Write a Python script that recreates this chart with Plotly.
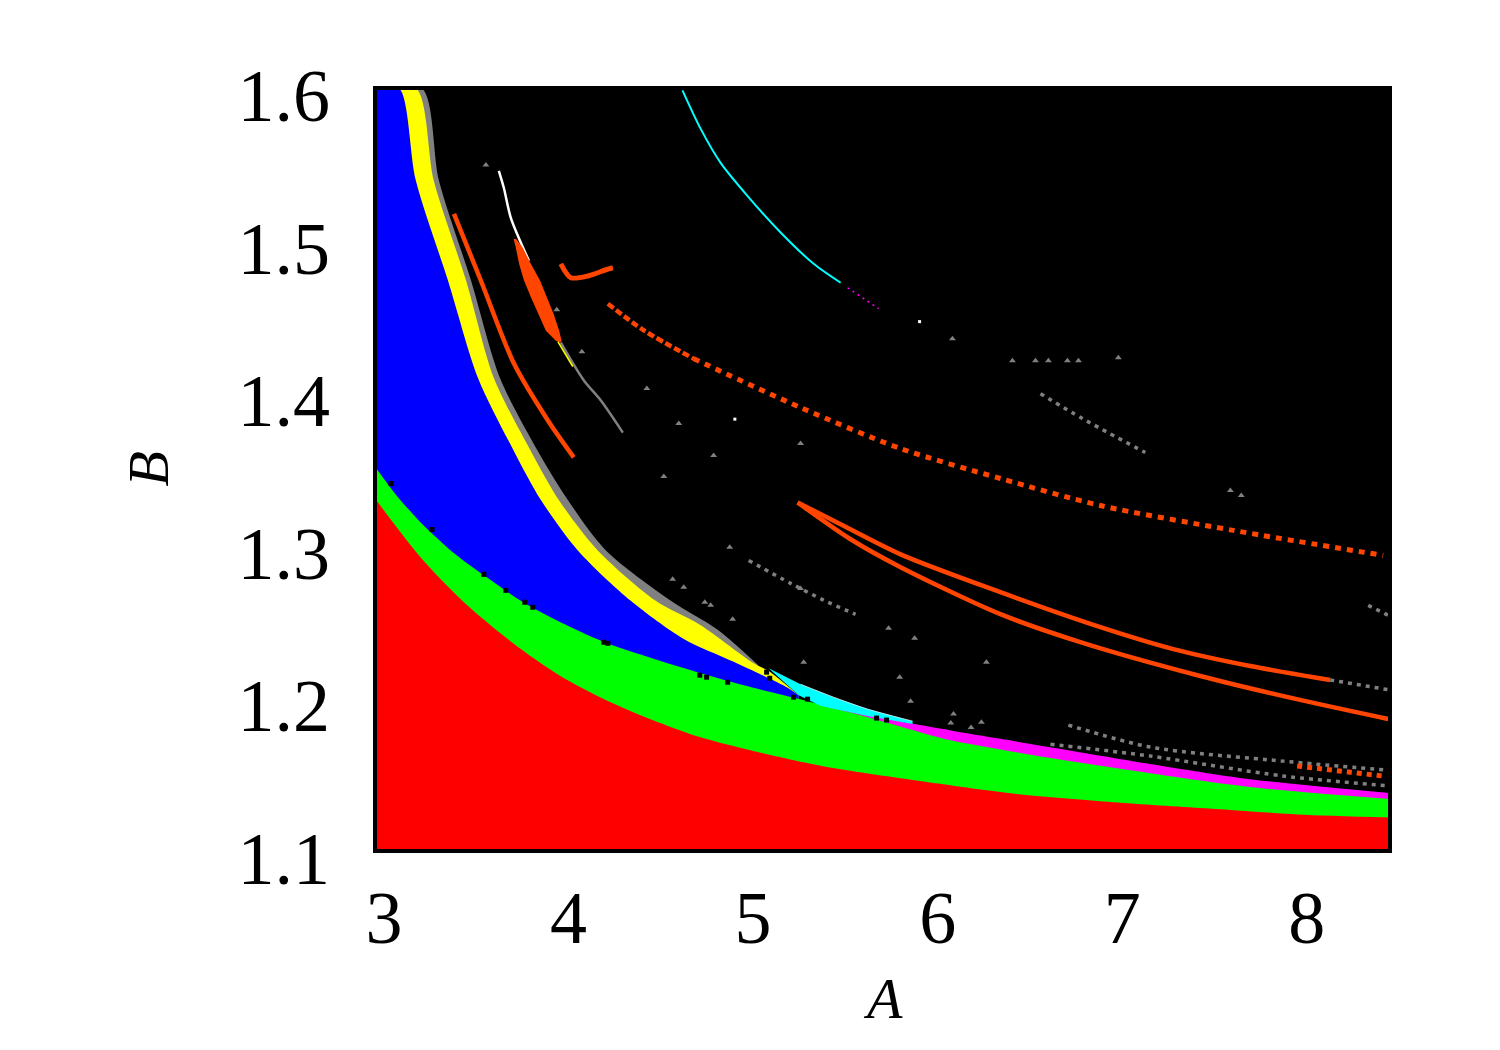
import plotly.graph_objects as go

# region boundaries (A on x, B on y)
RED_X = [3.0, 3.25, 3.5, 3.75, 4.0, 4.25, 4.5, 4.75, 5.0, 5.25, 5.5, 6.0, 6.5, 7.0, 7.5, 8.0, 8.5]
RED_Y = [1.331, 1.292, 1.261, 1.236, 1.215, 1.199, 1.186, 1.175, 1.167, 1.160, 1.154, 1.145, 1.137, 1.132, 1.128, 1.124, 1.122]

GREEN_X = [3.0, 3.11, 3.25, 3.43, 3.61, 3.79, 3.97, 4.24, 4.51, 4.78, 5.05, 5.32, 5.50, 5.69, 5.85,
           6.12, 6.39, 6.66, 7.20, 7.74, 8.5]
GREEN_Y = [1.352, 1.334, 1.315, 1.295, 1.279, 1.264, 1.252, 1.237, 1.226, 1.216, 1.207, 1.199, 1.193,
           1.187, 1.1815, 1.1725, 1.1665, 1.161, 1.151, 1.142, 1.134]

MAG_X = [5.40, 5.67, 5.91, 6.12, 6.39, 6.66, 7.20, 7.74, 8.5]
MAG_Y = [1.1965, 1.1895, 1.1835, 1.1790, 1.1735, 1.168, 1.157, 1.147, 1.138]

YEL_L_X = [3.0, 3.130, 3.222, 3.395, 3.558, 3.753, 3.899, 4.099, 4.386, 4.673, 4.944, 5.236, 5.296]
YEL_L_Y = [1.600, 1.600, 1.539, 1.474, 1.410, 1.362, 1.330, 1.297, 1.264, 1.239, 1.224, 1.207, 1.202]

YEL_R_X = [3.0, 3.222, 3.319, 3.493, 3.644, 3.845, 3.996, 4.207, 4.521, 4.765, 5.052, 5.133, 5.296]
YEL_R_Y = [1.600, 1.600, 1.539, 1.474, 1.410, 1.362, 1.330, 1.297, 1.264, 1.248, 1.223, 1.218, 1.202]

GRAY_R_X = [3.0, 3.254, 3.347, 3.520, 3.677, 3.883, 4.045, 4.251, 4.603, 4.857, 5.074]
GRAY_R_Y = [1.600, 1.600, 1.539, 1.474, 1.410, 1.362, 1.330, 1.297, 1.264, 1.245, 1.222]

CYAN_X = [5.133, 5.306, 5.485, 5.669, 5.913, 5.913, 5.669, 5.415, 5.296, 5.133]
CYAN_Y = [1.2198, 1.2093, 1.2008, 1.1930, 1.1851, 1.1832, 1.1884, 1.1950, 1.2020, 1.2198]

# thin curves
CYAN_ARC_X = [4.666, 4.765, 4.873, 5.018, 5.198, 5.377, 5.523]
CYAN_ARC_Y = [1.5985, 1.5732, 1.5509, 1.5293, 1.5053, 1.4848, 1.4724]
MAG_ARC_X = [5.561, 5.729]
MAG_ARC_Y = [1.4691, 1.4554]

WHITE_X = [3.671, 3.698, 3.736, 3.834]
WHITE_Y = [1.5457, 1.5346, 1.5149, 1.4868]

OR1_X = [3.428, 3.574, 3.753, 3.937, 4.077]
OR1_Y = [1.5175, 1.4737, 1.4194, 1.3821, 1.3579]

LENS_X = [3.751, 3.763, 3.781, 3.808, 3.845, 3.884, 3.926, 3.980, 4.007, 4.011, 3.998, 3.968, 3.931,
          3.895, 3.845, 3.800, 3.765]
LENS_Y = [1.5010, 1.4955, 1.4846, 1.4737, 1.4628, 1.4519, 1.4410, 1.4344, 1.4333, 1.4344, 1.4410,
          1.4519, 1.4628, 1.4737, 1.4846, 1.4955, 1.5010]

HOOK_X = [4.007, 4.061, 4.159, 4.251, 4.289]
HOOK_Y = [1.4848, 1.4757, 1.4770, 1.4809, 1.4822]

GRAY_TAIL_X = [4.007, 4.132, 4.224, 4.343]
GRAY_TAIL_Y = [1.4331, 1.4083, 1.3952, 1.3742]
YEL_TAIL_X = [3.991, 4.072]
YEL_TAIL_Y = [1.4338, 1.4175]

UPPER_OR_X = [4.262, 4.456, 4.727, 5.306, 5.848, 6.389, 6.931, 7.651, 8.463]
UPPER_OR_Y = [1.4586, 1.4412, 1.4226, 1.3906, 1.3637, 1.3441, 1.3264, 1.3101, 1.2937]

DOUBLE_U_X = [5.290, 5.523, 5.848, 6.389, 6.931, 7.326, 7.743, 8.176]
DOUBLE_U_Y = [1.3284, 1.3141, 1.2944, 1.2696, 1.2467, 1.2323, 1.2212, 1.2121]
DOUBLE_L_X = [5.290, 5.577, 5.848, 6.389, 6.822, 7.472, 8.013, 8.490]
DOUBLE_L_Y = [1.3284, 1.3043, 1.2860, 1.2552, 1.2369, 1.2147, 1.1990, 1.1865]

GRAY_LINES = [
    ([8.176, 8.5], [1.2121, 1.2055]),
    ([8.382, 8.49], [1.261, 1.2545]),
    ([6.757, 7.201, 7.92, 8.485], [1.1825, 1.1681, 1.1589, 1.1530]),
    ([6.660, 7.201, 7.922, 8.485], [1.1700, 1.1622, 1.1491, 1.1428]),
    ([5.025, 5.252, 5.431, 5.604], [1.2904, 1.2754, 1.2644, 1.2551]),
    ([6.606, 6.833, 7.174], [1.3997, 1.3834, 1.3611]),
]
OR_BOTTOM_X = [7.997, 8.463]
OR_BOTTOM_Y = [1.1557, 1.1491]

GRAY_DOTS_X = [3.601, 3.985, 4.121, 4.473, 4.646, 4.835, 4.565, 4.922, 4.613, 4.673, 4.787, 4.819, 4.938,
               5.323, 5.306, 5.843, 5.902, 5.783, 5.924, 6.135, 6.286, 6.313, 6.129, 6.454, 6.579, 6.649,
               6.752, 6.812, 7.028, 7.635, 7.694, 6.12, 6.23, 5.306]
GRAY_DOTS_Y = [1.5496, 1.4547, 1.4272, 1.4030, 1.3801, 1.3592, 1.3454, 1.2990, 1.2780, 1.2728, 1.2630,
               1.2610, 1.2518, 1.2237, 1.2721, 1.2139, 1.1982, 1.2460, 1.2394, 1.1897, 1.1844, 1.2237,
               1.4357, 1.4213, 1.4213, 1.4213, 1.4213, 1.4213, 1.4233, 1.3363, 1.3330, 1.1838, 1.1810,
               1.3670]
WHITE_DOTS_X = [5.951, 4.95]
WHITE_DOTS_Y = [1.4469, 1.383]
BLACK_DOTS_X = [3.087, 3.309, 3.590, 3.709, 3.812, 3.855, 4.240, 4.262, 4.760, 4.797, 4.911, 5.122, 5.139,
                5.268, 5.344, 5.718, 5.772]
BLACK_DOTS_Y = [1.3408, 1.3107, 1.2813, 1.2708, 1.2630, 1.2597, 1.2368, 1.2361, 1.2152, 1.2139, 1.2106,
                1.2172, 1.2132, 1.2008, 1.1995, 1.1871, 1.1858]

X_TICKS = [3, 4, 5, 6, 7, 8]
Y_TICKS = [1.1, 1.2, 1.3, 1.4, 1.5, 1.6]

FONT = '"Times New Roman", "Liberation Serif", Times, serif'
ORANGE = "#ff4500"
GRAY = "#808080"


def area(x, y, color, fill="tozeroy", shape="spline"):
    return go.Scatter(x=x, y=y, mode="lines", fill=fill, fillcolor=color,
                      line=dict(width=0, color=color, shape=shape, smoothing=0.8),
                      hoverinfo="skip", showlegend=False)


def curve(x, y, color, width, dash="solid"):
    return go.Scatter(x=x, y=y, mode="lines",
                      line=dict(color=color, width=width, dash=dash, shape="spline", smoothing=0.8),
                      hoverinfo="skip", showlegend=False)


def dots(x, y, color, size, symbol="triangle-up"):
    return go.Scatter(x=x, y=y, mode="markers", marker=dict(color=color, size=size, symbol=symbol),
                      hoverinfo="skip", showlegend=False)


fig = go.Figure()
fig.add_trace(area(GRAY_R_X, GRAY_R_Y, GRAY))
fig.add_trace(area(YEL_R_X, YEL_R_Y, "#ffff00"))
fig.add_trace(area(YEL_L_X, YEL_L_Y, "#0000ff"))
fig.add_trace(area(MAG_X, MAG_Y, "#ff00ff"))
fig.add_trace(area(GREEN_X, GREEN_Y, "#00ff00"))
fig.add_trace(area(RED_X, RED_Y, "#ff0000"))
fig.add_trace(area(CYAN_X, CYAN_Y, "#00ffff", fill="toself", shape="linear"))
fig.add_trace(curve(CYAN_X[1:5], CYAN_Y[1:5], "white", 0.7))

fig.add_trace(curve(CYAN_ARC_X, CYAN_ARC_Y, "#00ffff", 2))
fig.add_trace(curve(MAG_ARC_X, MAG_ARC_Y, "#ff00ff", 1.5, dash="2px,4px"))
fig.add_trace(curve(WHITE_X, WHITE_Y, "white", 2.5))
fig.add_trace(curve(OR1_X, OR1_Y, ORANGE, 4.5))
fig.add_trace(area(LENS_X, LENS_Y, ORANGE, fill="toself", shape="linear"))
fig.add_trace(curve(HOOK_X, HOOK_Y, ORANGE, 5))
fig.add_trace(curve(GRAY_TAIL_X, GRAY_TAIL_Y, GRAY, 2.5))
fig.add_trace(curve(YEL_TAIL_X, YEL_TAIL_Y, "#ffff00", 1.5))
fig.add_trace(curve(UPPER_OR_X[:3], UPPER_OR_Y[:3], ORANGE, 4.5, dash="7px,3px"))
fig.add_trace(curve(UPPER_OR_X[2:], UPPER_OR_Y[2:], ORANGE, 5, dash="6px,6px"))
fig.add_trace(curve(DOUBLE_U_X, DOUBLE_U_Y, ORANGE, 4.5))
fig.add_trace(curve(DOUBLE_L_X, DOUBLE_L_Y, ORANGE, 4.5))
for gx, gy in GRAY_LINES:
    fig.add_trace(curve(gx, gy, GRAY, 3.5, dash="4px,5px"))
fig.add_trace(curve(OR_BOTTOM_X, OR_BOTTOM_Y, ORANGE, 5, dash="5px,5px"))
fig.add_trace(dots(GRAY_DOTS_X, GRAY_DOTS_Y, GRAY, 6))
fig.add_trace(dots(WHITE_DOTS_X, WHITE_DOTS_Y, "white", 3, symbol="square"))
fig.add_trace(dots(BLACK_DOTS_X, BLACK_DOTS_Y, "black", 5, symbol="square"))

fig.add_shape(type="rect", xref="paper", yref="paper", x0=0, x1=1, y0=0, y1=1,
              line=dict(color="black", width=4), layer="above")

fig.add_annotation(text="<i>A</i>", xref="paper", yref="paper", x=0.5, y=0, yanchor="middle",
                   yshift=-147, showarrow=False, font=dict(family=FONT, size=58, color="black"))
fig.add_annotation(text="<i>B</i>", xref="paper", yref="paper", x=0, y=0.5, xanchor="center",
                   xshift=-227, textangle=-90, showarrow=False,
                   font=dict(family=FONT, size=58, color="black"))

fig.update_layout(
    width=1500,
    height=1050,
    paper_bgcolor="white",
    plot_bgcolor="black",
    margin=dict(l=367, r=118, t=80, b=207),
    font=dict(family=FONT, color="black"),
    showlegend=False,
)
fig.update_xaxes(range=[3, 8.5], tickvals=X_TICKS, ticks="", showgrid=False, zeroline=False,
                 tickfont=dict(family=FONT, size=74), ticklabelshift=9, ticklabelstandoff=17)
fig.update_yaxes(range=[1.1, 1.6], tickvals=Y_TICKS, ticktext=[f"{v:.1f}" for v in Y_TICKS], ticks="",
                 showgrid=False, zeroline=False, tickfont=dict(family=FONT, size=74),
                 ticklabelstandoff=44, ticklabelshift=7)

fig.write_html("out.html")
